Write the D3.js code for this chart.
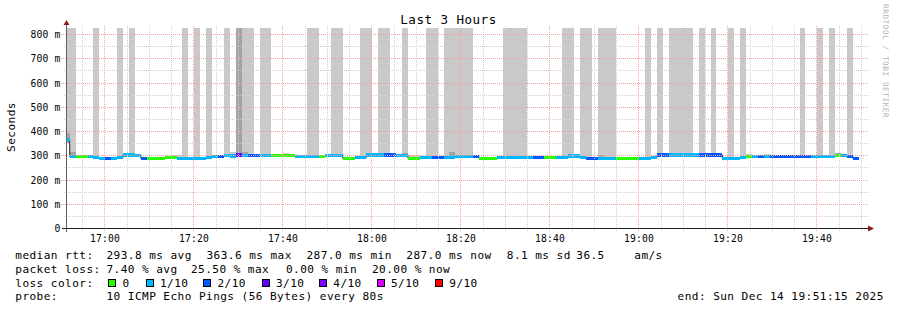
<!DOCTYPE html>
<html>
<head>
<meta charset="utf-8">
<script src="https://cdn.jsdelivr.net/npm/d3@7"></script>
<style>
  html, body { margin: 0; padding: 0; background: #fff; }
  svg { display: block; }
  text { font-family: "DejaVu Sans Mono", monospace; fill: #000; }
</style>
</head>
<body>
<div id="chart"></div>
<script>
const width = 897;
const height = 310;
const plot = { left: 66, right: 867, top: 26, bottom: 228 };

// TIME RANGE (3 hours, 80 s probe steps)
const startTime = Date.UTC(2025, 11, 14, 16, 51, 15);
const endTime = Date.UTC(2025, 11, 14, 19, 51, 15);
const firstStep = Date.UTC(2025, 11, 14, 16, 50, 45);
const stepSeconds = 80;
const yMaxMs = 833;
const smokeCeilingMs = 825;
const medianHalfWidthMs = 6.5;

// MEDIAN RTT PER STEP (ms)
const medianMs = [
  363.6, 294, 294, 294, 294, 290, 288, 288, 288, 291,
  301, 301, 299, 287, 287, 287, 287, 289, 289, 288,
  288, 288, 288, 288, 290, 294, 296, 300, 297, 301,
  300, 300, 300, 300, 300, 300, 300, 300, 298, 294,
  294, 294, 294, 296, 298, 298, 298, 288, 288, 291,
  291, 301, 301, 301, 301, 301, 299, 299, 288, 288,
  291, 291, 289, 289, 289, 293, 296, 296, 296, 294,
  287, 287, 287, 289, 289, 289, 289, 289, 289, 289,
  289, 289, 289, 289, 292, 297, 297, 291, 288, 288,
  288, 288, 288, 288, 288, 288, 288, 288, 288, 292,
  301, 301, 301, 301, 301, 301, 301, 301, 301, 301,
  301, 287, 287, 287, 291, 296, 296, 296, 296, 296,
  296, 296, 296, 296, 296, 296, 296, 296, 296, 296,
  300, 298, 294, 287
];

// LOST PINGS PER STEP (out of 10)
const lossPings = [
  0.5, 0.5, 0, 0, 0.3, 0.6, 0.8, 1.5, 0.7, 0.4,
  0.5, 0.5, 0.6, 1.4, 0, 0, 0, 0, 0, 0.5,
  0.6, 0.4, 0.5, 0.7, 0.5, 0.4, 1.3, 0.6, 0.8, 2.55,
  1.0, 1.8, 1.5, 0.7, 0.5, 0, 0, 0, 0, 0.4,
  0.5, 0.6, 0.5, 0, 0.5, 0.7, 0.6, 0, 0, 0.4,
  0.6, 0.5, 0.5, 0.7, 1.4, 1.6, 0.6, 0.8, 0, 0,
  0.5, 0.5, 1.3, 1.5, 0.7, 0.5, 0.6, 0.6, 0.5, 1.2,
  0, 0, 0, 0.4, 0.5, 0.6, 0.7, 0.5, 0.4, 1.5,
  1.4, 0, 0, 0.5, 0.7, 0.6, 0.5, 0.7, 1.6, 1.4,
  0.6, 0.8, 0.5, 0, 0, 0, 0, 0.4, 0.7, 0.5,
  1.4, 1.7, 0.6, 0.5, 0.7, 0.8, 0.6, 1.3, 1.5, 1.8,
  1.4, 0.6, 0.5, 0.8, 0.6, 0, 0.6, 1.3, 0.7, 1.4,
  1.6, 1.5, 1.3, 1.7, 1.5, 1.4, 0.5, 0.7, 0.6, 0.8,
  0, 0.6, 1.5, 2.0
];

// SMOKE: steps whose ping spread reaches the top of the graph
const smokeToTop = [
  0, 1, 5, 9, 11, 20, 22, 24, 27, 29, 30, 31, 33, 34, 41, 42, 45, 46,
  50, 51, 53, 54, 57, 61, 62, 64, 65, 66, 67, 68, 74, 75, 76, 77,
  84, 85, 87, 88, 90, 91, 92, 98, 100, 102, 103, 104, 105, 107, 109,
  112, 114, 124, 127, 129, 132
];
// [step, top ms] small light smoke above the median
const smokeBumps = [
  [18, 302], [19, 302], [28, 314], [37, 311], [58, 303], [59, 303],
  [108, 311], [115, 304], [118, 305], [130, 310]
];
// [step, low ms, high ms] denser smoke
const darkSmoke = [
  [0, 350, 392], [1, 298, 312], [29, 300, 825], [30, 300, 313],
  [57, 299, 310], [65, 293, 313], [90, 288, 302], [109, 301, 310], [130, 300, 310]
];

// LOSS COLOURS
const lossLevels = [0, 1, 2, 3, 4, 5, 9];
const lossLabels = ["0", "1/10", "2/10", "3/10", "4/10", "5/10", "9/10"];
const lossColors = ["#26ff00", "#00b8ff", "#0059ff", "#5e00ff", "#7e00ff", "#dd00ff", "#ff0000"];

// LEGEND TEXT
const rttStats = ["293.8 ms avg", "363.6 ms max", "287.0 ms min", "287.0 ms now", "8.1 ms sd", "36.5", "am/s"];
const lossStats = ["7.40 % avg", "25.50 % max", "0.00 % min", "20.00 % now"];
const probeText = "10 ICMP Echo Pings (56 Bytes) every 80s";
const endText = "end: Sun Dec 14 19:51:15 2025";

const rttX = [106.5, 206.5, 306.5, 406.3, 506.8, 576.3, 634.3];
const lossX = [106.5, 191, 286, 372];
const boxX = [108, 145.5, 203, 261.5, 319, 376.5, 434.5];
const labelX = [122.5, 160, 217.5, 276, 333.3, 391, 449.3];

const lossBand = (l) => {
  if (l === 0) return 0;
  for (let i = 1; i < lossLevels.length - 1; i++) if (l <= lossLevels[i]) return i;
  return lossLevels.length - 1;
};

const steps = medianMs.map((v, i) => ({
  i,
  t0: new Date(firstStep + i * stepSeconds * 1000),
  t1: new Date(firstStep + (i + 1) * stepSeconds * 1000),
  median: v,
  band: lossBand(lossPings[i]),
}));

// SCALES
const xScale = d3.scaleUtc().domain([new Date(startTime), new Date(endTime)]).range([plot.left, plot.right]);
const yScale = d3.scaleLinear().domain([0, yMaxMs]).range([plot.bottom, plot.top]);
const px = (x) => Math.floor(x) + 0.5;
const py = (y) => Math.round(y) + 0.5;

const svg = d3.select("#chart").append("svg").attr("width", width).attr("height", height);
svg.append("rect").attr("width", width).attr("height", height).attr("fill", "#fff");

svg.append("clipPath").attr("id", "plotClip")
  .append("rect")
  .attr("x", plot.left).attr("y", plot.top)
  .attr("width", plot.right - plot.left).attr("height", plot.bottom - plot.top);

const plotG = svg.append("g").attr("clip-path", "url(#plotClip)");

// SMOKE
const stepRect = (sel, lo, hi, color) => sel
  .attr("x", (d) => xScale(d.step.t0))
  .attr("width", (d) => xScale(d.step.t1) - xScale(d.step.t0))
  .attr("y", (d) => yScale(hi(d)))
  .attr("height", (d) => yScale(lo(d)) - yScale(hi(d)))
  .attr("fill", color)
  .attr("shape-rendering", "crispEdges");

plotG.append("g").selectAll("rect")
  .data(smokeToTop.map((i) => ({ step: steps[i] })))
  .join("rect")
  .call(stepRect, (d) => d.step.median - 3, () => smokeCeilingMs, "#c9c9c9");

plotG.append("g").selectAll("rect")
  .data(smokeBumps.map(([i, top]) => ({ step: steps[i], top })))
  .join("rect")
  .call(stepRect, (d) => d.step.median - 3, (d) => d.top, "#c9c9c9");

plotG.append("g").selectAll("rect")
  .data(darkSmoke.map(([i, lo, hi]) => ({ step: steps[i], lo, hi })))
  .join("rect")
  .call(stepRect, (d) => d.lo, (d) => d.hi, "#a3a3a3");

// GRID
const gridG = svg.append("g").attr("stroke-dasharray", "1,1").attr("shape-rendering", "crispEdges");
const minorTimes = xScale.ticks(d3.utcMinute.every(5)).filter((t) => t.getUTCMinutes() % 20 !== 0);
const majorTimes = xScale.ticks(d3.utcMinute.every(20));
const minorValues = d3.range(50, yMaxMs, 100);
const majorValues = yScale.ticks(8).filter((v) => v > 0);

gridG.selectAll(".hminor").data(minorValues).join("line")
  .attr("x1", plot.left - 2).attr("x2", plot.right + 2)
  .attr("y1", (d) => py(yScale(d))).attr("y2", (d) => py(yScale(d)))
  .attr("stroke", "#cfcfcf");
gridG.selectAll(".vminor").data(minorTimes).join("line")
  .attr("x1", (d) => px(xScale(d))).attr("x2", (d) => px(xScale(d)))
  .attr("y1", plot.top).attr("y2", plot.bottom + 3)
  .attr("stroke", "#cfcfcf");
gridG.selectAll(".hmajor").data(majorValues).join("line")
  .attr("x1", plot.left - 5).attr("x2", plot.right + 2)
  .attr("y1", (d) => py(yScale(d))).attr("y2", (d) => py(yScale(d)))
  .attr("stroke", "#f2a0a0");
gridG.selectAll(".vmajor").data(majorTimes).join("line")
  .attr("x1", (d) => px(xScale(d))).attr("x2", (d) => px(xScale(d)))
  .attr("y1", plot.top).attr("y2", plot.bottom + 3)
  .attr("stroke", "#f2a0a0");

// MEDIAN: thin dark step line, then a loss-coloured band per step
const stepLine = d3.line()
  .x((d) => xScale(d.t))
  .y((d) => yScale(d.v))
  .curve(d3.curveStepAfter);

const lineData = steps.map((s) => ({ t: s.t0, v: s.median }))
  .concat([{ t: steps[steps.length - 1].t1, v: steps[steps.length - 1].median }]);

plotG.append("path")
  .attr("d", stepLine(lineData))
  .attr("fill", "none").attr("stroke", "#202020").attr("stroke-width", 1);

plotG.append("g").selectAll("rect")
  .data(steps.map((s) => ({ step: s })))
  .join("rect")
  .call(stepRect, (d) => d.step.median - medianHalfWidthMs, (d) => d.step.median + medianHalfWidthMs, "none")
  .attr("fill", (d) => lossColors[d.step.band]);

// AXES
svg.append("line")
  .attr("x1", plot.left + 0.5).attr("x2", plot.left + 0.5)
  .attr("y1", plot.top - 1).attr("y2", plot.bottom + 4)
  .attr("stroke", "#606060").attr("stroke-width", 1).attr("shape-rendering", "crispEdges");
svg.append("line")
  .attr("x1", plot.left - 4).attr("x2", plot.right + 2)
  .attr("y1", plot.bottom + 0.5).attr("y2", plot.bottom + 0.5)
  .attr("stroke", "#202020").attr("stroke-width", 1).attr("shape-rendering", "crispEdges");
svg.append("path")
  .attr("d", `M${plot.left - 2.5},${plot.top - 1}L${plot.left + 0.5},${plot.top - 6}L${plot.left + 3.5},${plot.top - 1}Z`)
  .attr("fill", "#8e1c1c");
svg.append("path")
  .attr("d", `M${plot.right + 1},${plot.bottom - 2.5}L${plot.right + 7},${plot.bottom + 0.5}L${plot.right + 1},${plot.bottom + 3.5}Z`)
  .attr("fill", "#8e1c1c");

const axisFont = (sel) => sel.attr("font-size", "9.7px").attr("letter-spacing", "0.15px");

svg.append("g").selectAll("text").data(yScale.ticks(8)).join("text")
  .attr("x", 60.5)
  .attr("y", (d) => py(yScale(d)) + 3.3)
  .attr("text-anchor", "end")
  .call(axisFont)
  .text((d) => (d === 0 ? "0" : `${d} m`));

svg.append("g").selectAll("text").data(majorTimes).join("text")
  .attr("x", (d) => px(xScale(d)) + 0.5)
  .attr("y", 242)
  .attr("text-anchor", "middle")
  .call(axisFont)
  .text(d3.utcFormat("%H:%M"));

// TITLES
svg.append("text")
  .attr("x", width / 2).attr("y", 24)
  .attr("text-anchor", "middle")
  .attr("font-size", "12.5px").attr("letter-spacing", "0.5px")
  .text("Last 3 Hours");

svg.append("text")
  .attr("transform", "translate(15,127) rotate(-90)")
  .attr("text-anchor", "middle")
  .attr("font-size", "11.1px").attr("letter-spacing", "0.43px")
  .text("Seconds");

svg.append("text")
  .attr("transform", "translate(883,4) rotate(90)")
  .attr("font-size", "7.6px").attr("letter-spacing", "0.62px")
  .style("fill", "#b4b4b4")
  .text("RRDTOOL / TOBI OETIKER");

// LEGEND
const legendFont = (sel) => sel.attr("font-size", "11.1px").attr("letter-spacing", "0.43px");
const legend = svg.append("g");
const rowY = [258.5, 272.5, 286.5, 300];

legend.append("text").attr("x", 15.3).attr("y", rowY[0]).call(legendFont).text("median rtt:");
legend.selectAll(".rtt").data(rttStats).join("text")
  .attr("x", (d, i) => rttX[i]).attr("y", rowY[0]).call(legendFont).text((d) => d);

legend.append("text").attr("x", 15.3).attr("y", rowY[1]).call(legendFont).text("packet loss:");
legend.selectAll(".loss").data(lossStats).join("text")
  .attr("x", (d, i) => lossX[i]).attr("y", rowY[1]).call(legendFont).text((d) => d);

legend.append("text").attr("x", 15.3).attr("y", rowY[2]).call(legendFont).text("loss color:");
legend.selectAll("rect").data(lossLabels).join("rect")
  .attr("x", (d, i) => boxX[i] + 0.5).attr("y", rowY[2] - 7)
  .attr("width", 7).attr("height", 7)
  .attr("fill", (d, i) => lossColors[i])
  .attr("stroke", "#000").attr("stroke-width", 1)
  .attr("shape-rendering", "crispEdges");
legend.selectAll(".lc").data(lossLabels).join("text")
  .attr("x", (d, i) => labelX[i]).attr("y", rowY[2]).call(legendFont).text((d) => d);

legend.append("text").attr("x", 15.3).attr("y", rowY[3]).call(legendFont).text("probe:");
legend.append("text").attr("x", 106.5).attr("y", rowY[3]).call(legendFont).text(probeText);
legend.append("text").attr("x", 677.6).attr("y", rowY[3]).call(legendFont).text(endText);
</script>
</body>
</html>
